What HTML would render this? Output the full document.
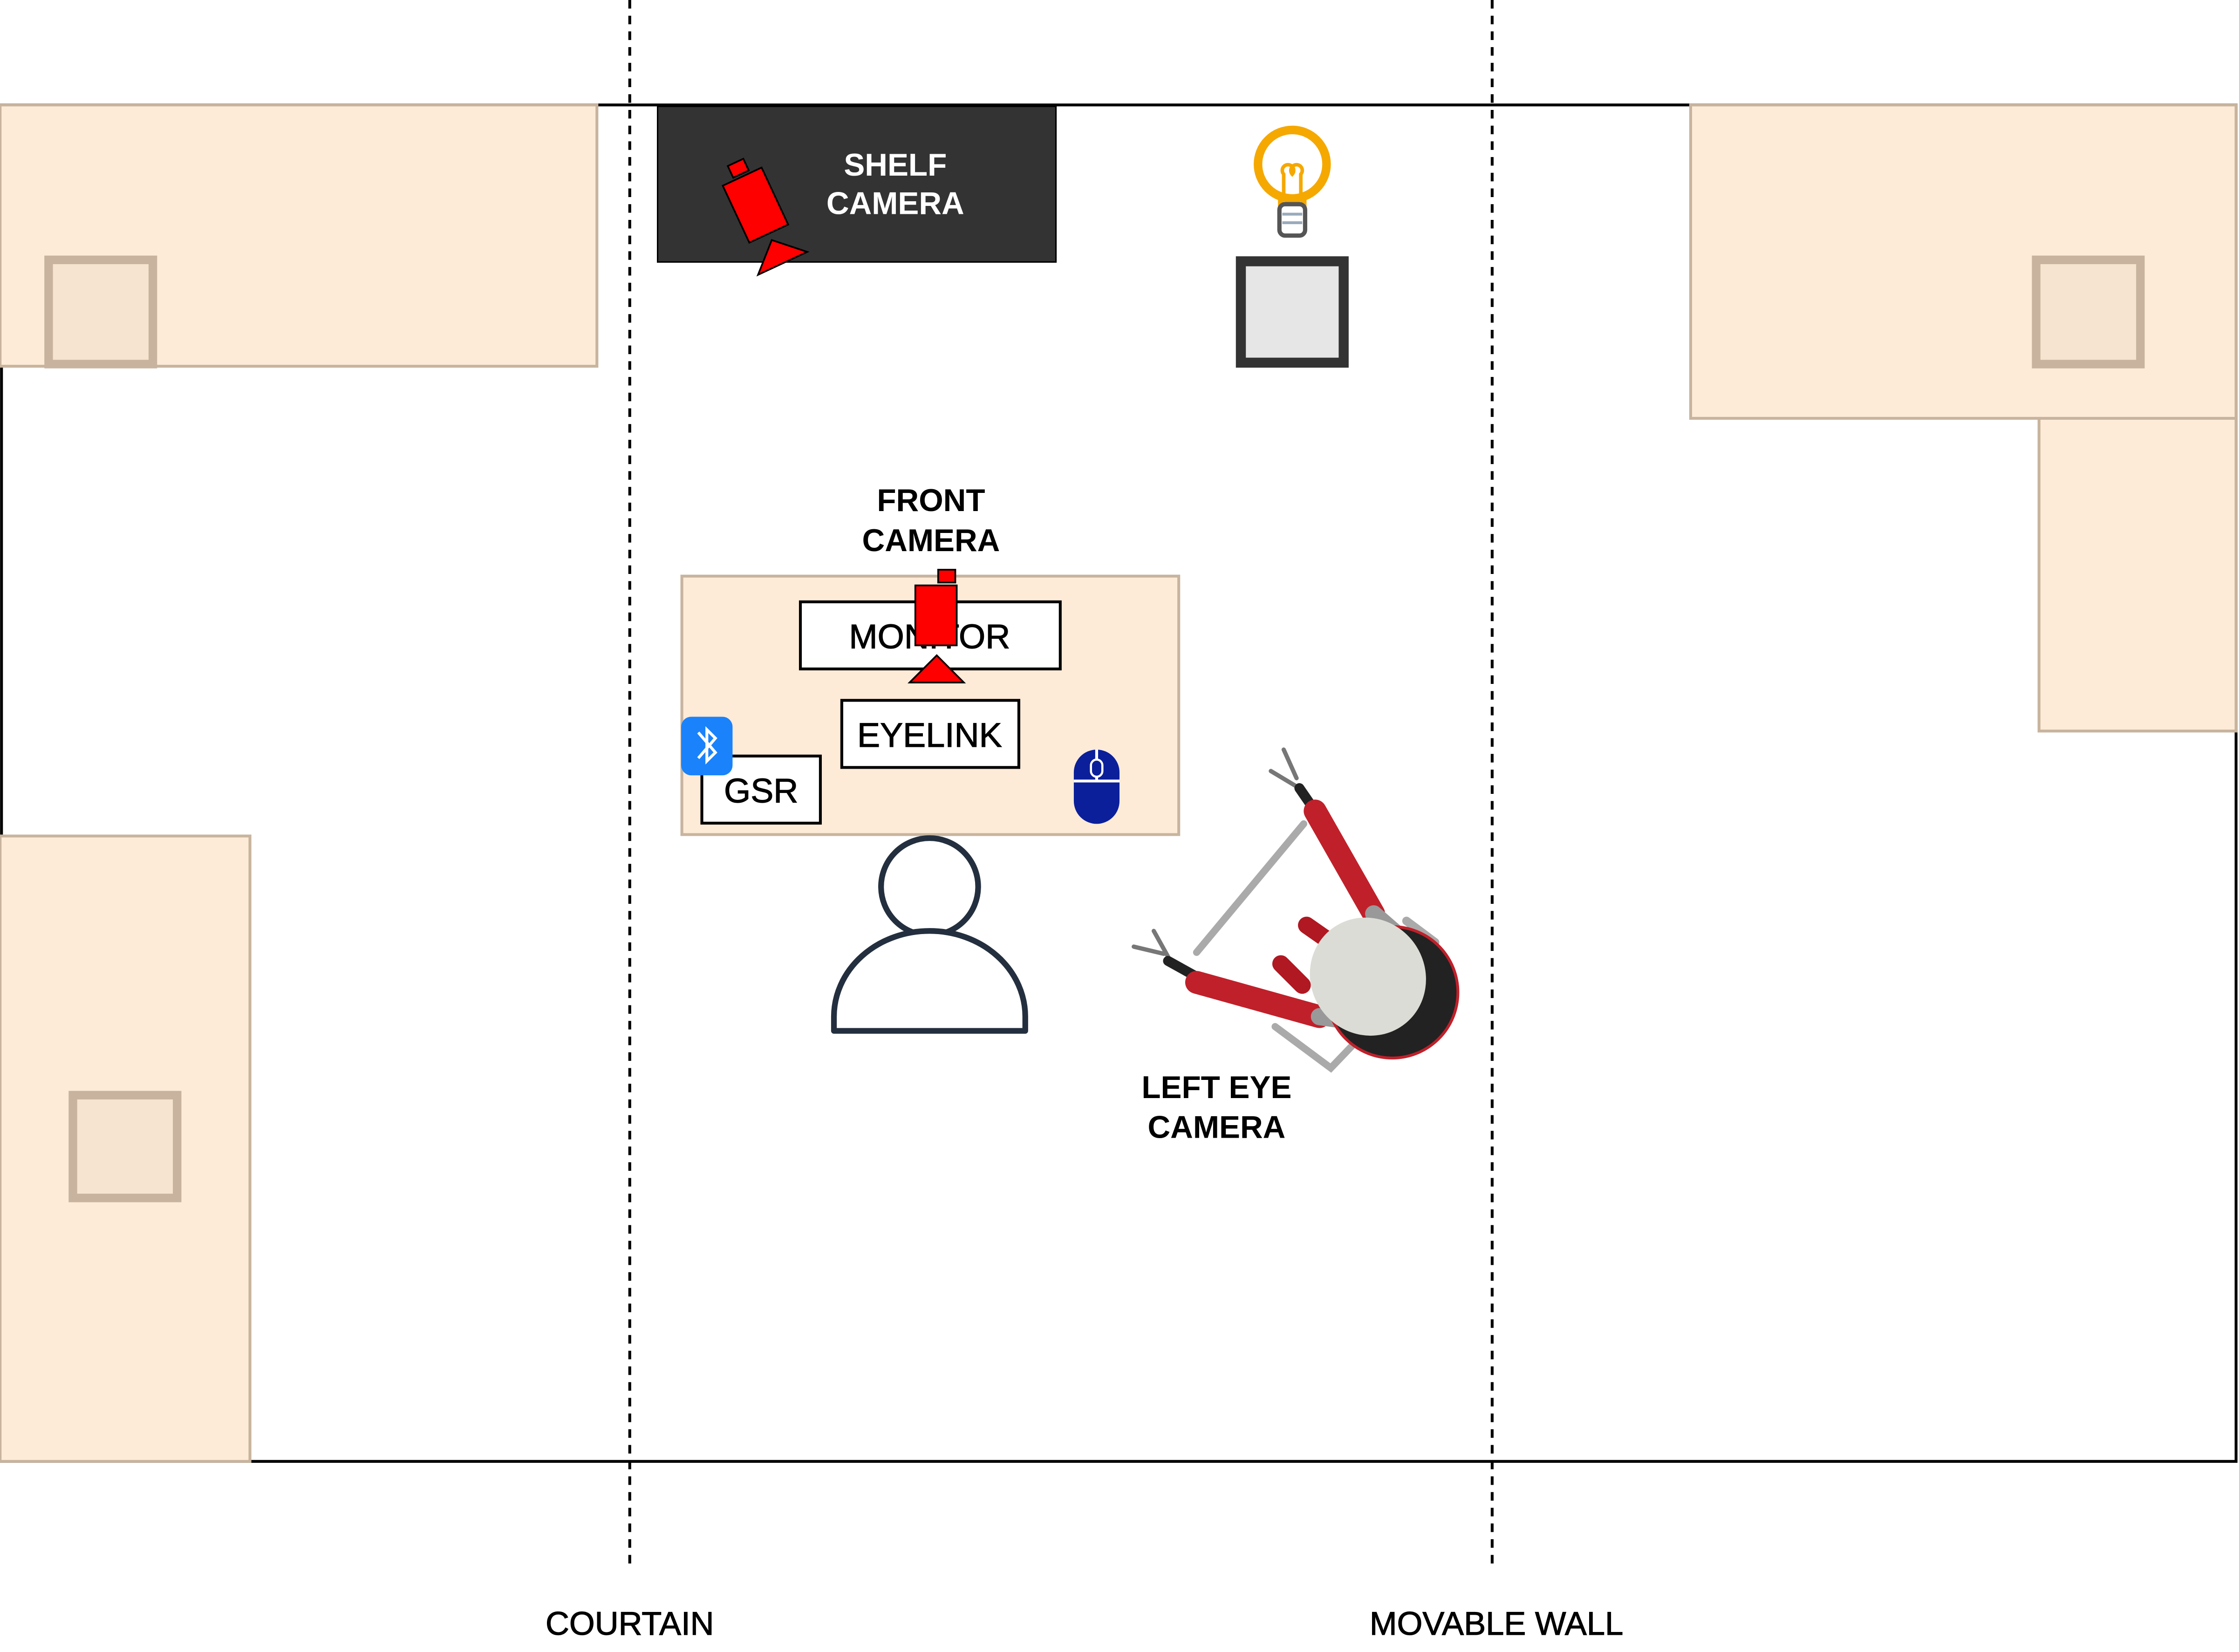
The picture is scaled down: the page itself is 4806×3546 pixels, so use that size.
<!DOCTYPE html>
<html><head><meta charset="utf-8"><style>
html,body{margin:0;padding:0;background:#fff;}
svg{display:block;}
text{font-family:"Liberation Sans",Arial,sans-serif;}
</style></head><body>
<svg width="4806" height="3546" viewBox="0 0 1568 1157" xmlns="http://www.w3.org/2000/svg">
<rect x="0" y="0" width="1568" height="1157" fill="#fff"/>
<rect x="1" y="73.5" width="1565" height="950" fill="none" stroke="#000" stroke-width="2"/>
<rect x="0" y="73.5" width="418" height="183" fill="#fdebd8" stroke="#c8b49e" stroke-width="2"/>
<rect x="34" y="182" width="73" height="73" fill="#f6e4d0" stroke="#c8b49e" stroke-width="6"/>
<path d="M1184 73.5 H1566 V512 H1428 V293 H1184 Z" fill="#fdebd8" stroke="#c8b49e" stroke-width="2"/>
<line x1="1428" y1="293" x2="1566" y2="293" stroke="#c8b49e" stroke-width="2"/>
<rect x="1426" y="182" width="73" height="73" fill="#f6e4d0" stroke="#c8b49e" stroke-width="6"/>
<rect x="0" y="585.5" width="175" height="438" fill="#fdebd8" stroke="#c8b49e" stroke-width="2"/>
<rect x="51" y="767" width="73" height="72" fill="#f6e4d0" stroke="#c8b49e" stroke-width="6"/>
<rect x="460.5" y="74.5" width="279" height="109" fill="#333" stroke="#000" stroke-width="1"/>
<text x="627" y="123" fill="#fff" font-size="22" font-weight="bold" text-anchor="middle">SHELF</text>
<text x="627" y="150" fill="#fff" font-size="22" font-weight="bold" text-anchor="middle">CAMERA</text>
<g transform="rotate(-25 532 150)" stroke="#000" stroke-width="1.2" fill="#f00">
<rect x="526" y="110" width="12" height="9"/>
<rect x="517" y="121" width="30" height="44"/>
<path d="M513 188 L532 170 L551 188 Z"/>
</g>
<circle cx="905" cy="115" r="24" fill="#fff" stroke="#f5a800" stroke-width="6"/>
<path d="M897 135 v10 M913 135 v10" stroke="#f5a800" stroke-width="4"/>
<path d="M899 137 V122 a4 4 0 1 1 6 0 a4 4 0 1 1 6 0 V137" fill="none" stroke="#f5a800" stroke-width="2.5"/>
<rect x="896" y="143" width="18" height="22" rx="4" fill="#fff" stroke="#555" stroke-width="3"/>
<path d="M898 150 h14 M898 156 h14" stroke="#9ab" stroke-width="2"/>
<rect x="869" y="183" width="72" height="71" fill="#e6e6e6" stroke="#333" stroke-width="7"/>
<line x1="441" y1="0" x2="441" y2="1097" stroke="#000" stroke-width="2" stroke-dasharray="6 5"/>
<line x1="1045" y1="0" x2="1045" y2="1097" stroke="#000" stroke-width="2" stroke-dasharray="6 5"/>
<rect x="477.5" y="403.5" width="348" height="181" fill="#fdebd8" stroke="#c8b49e" stroke-width="2"/>
<rect x="560.5" y="421.5" width="182" height="47" fill="#fff" stroke="#000" stroke-width="2"/>
<text x="651" y="454" font-size="24" text-anchor="middle" stroke="#000" stroke-width="0.4">MONITOR</text>
<rect x="589.5" y="490.5" width="124" height="47" fill="#fff" stroke="#000" stroke-width="2"/>
<text x="651" y="523" font-size="24" text-anchor="middle" stroke="#000" stroke-width="0.4">EYELINK</text>
<rect x="491.5" y="529.5" width="83" height="47" fill="#fff" stroke="#000" stroke-width="2"/>
<text x="533" y="562" font-size="24" text-anchor="middle" stroke="#000" stroke-width="0.4">GSR</text>
<rect x="477" y="502" width="36" height="41" rx="7" fill="#1a82fb"/>
<path d="M489 513 L501 527 L495 533 V511 L501 517 L489 531" fill="none" stroke="#fff" stroke-width="2"/>
<rect x="752" y="525" width="32" height="52" rx="16" fill="#0b1f9b"/>
<line x1="752" y1="547" x2="784" y2="547" stroke="#fff" stroke-width="2"/>
<line x1="768" y1="525" x2="768" y2="547" stroke="#fff" stroke-width="2"/>
<rect x="764" y="532" width="8" height="12" rx="4" fill="#0b1f9b" stroke="#fff" stroke-width="1.5"/>
<text x="652" y="358" font-size="22" font-weight="bold" text-anchor="middle">FRONT</text>
<text x="652" y="386" font-size="22" font-weight="bold" text-anchor="middle">CAMERA</text>
<g stroke="#000" stroke-width="1.2" fill="#f00">
<rect x="657" y="399" width="12" height="9"/>
<rect x="641" y="410" width="29" height="42"/>
<path d="M637 478 L656 459 L675 478 Z"/>
</g>
<circle cx="651" cy="621" r="34" fill="#fff" stroke="#232f3e" stroke-width="4"/>
<path d="M584 722 V712 A67 60 0 0 1 718 712 V722 Z" fill="#fff" stroke="#232f3e" stroke-width="4" stroke-linejoin="round"/>
<!-- robot -->
<g stroke-linecap="round" fill="none">
<line x1="913" y1="577" x2="838" y2="667" stroke="#aaa" stroke-width="5"/>
<path d="M893 719 L932 748 L955 724" stroke="#aaa" stroke-width="5"/>
<path d="M985 645 L1005 660" stroke="#aaa" stroke-width="6"/>
<path d="M899 525 L908 545 M890 540 L910 552" stroke="#777" stroke-width="3"/>
<path d="M794 663 L815 668 M808 652 L818 670" stroke="#777" stroke-width="3"/>
<line x1="910" y1="552" x2="921" y2="568" stroke="#222" stroke-width="7"/>
<line x1="818" y1="673" x2="836" y2="683" stroke="#222" stroke-width="7"/>
<line x1="921" y1="568" x2="962" y2="640" stroke="#c0202a" stroke-width="16"/>
<line x1="838" y1="688" x2="924" y2="712" stroke="#c0202a" stroke-width="16"/>
<line x1="915" y1="648" x2="935" y2="662" stroke="#b01822" stroke-width="12"/>
<line x1="897" y1="675" x2="912" y2="690" stroke="#b01822" stroke-width="12"/>
<line x1="962" y1="640" x2="985" y2="660" stroke="#999" stroke-width="12"/>
<line x1="924" y1="712" x2="945" y2="715" stroke="#999" stroke-width="12"/>
</g>
<circle cx="975" cy="695" r="46" fill="#222" stroke="#c0202a" stroke-width="2"/>
<ellipse cx="958" cy="684" rx="40" ry="42" transform="rotate(-35 958 684)" fill="#dcdcd6"/>
<text x="852" y="769" font-size="22" font-weight="bold" text-anchor="middle">LEFT EYE</text>
<text x="852" y="797" font-size="22" font-weight="bold" text-anchor="middle">CAMERA</text>
<text x="441" y="1145" font-size="23" text-anchor="middle" stroke="#000" stroke-width="0.4">COURTAIN</text>
<text x="1048" y="1145" font-size="23" text-anchor="middle" stroke="#000" stroke-width="0.4">MOVABLE WALL</text>
</svg>
</body></html>
